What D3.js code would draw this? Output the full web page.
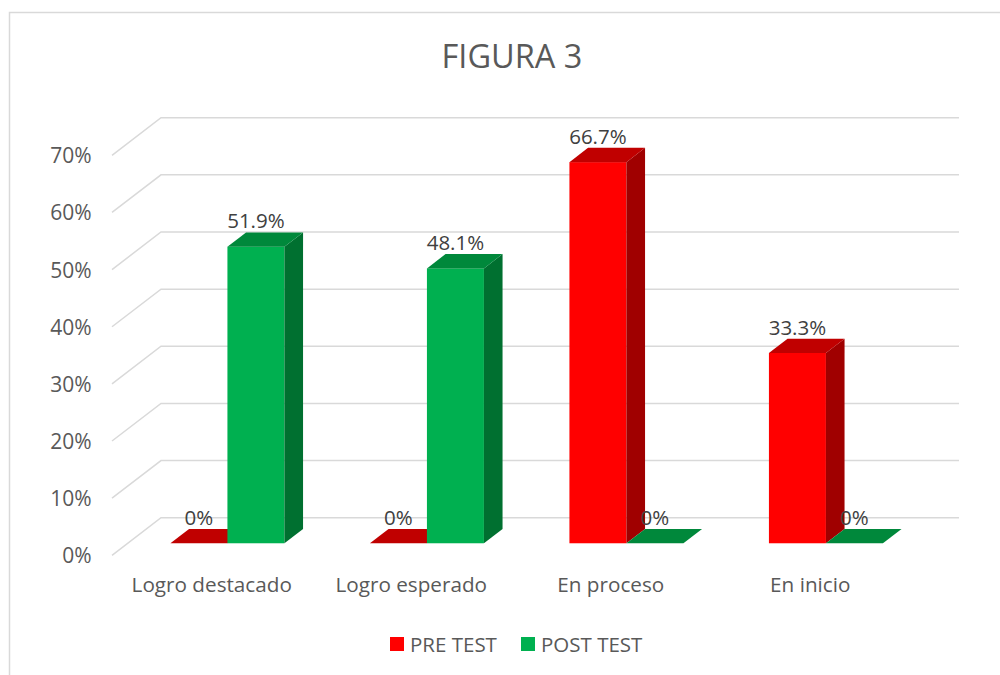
<!DOCTYPE html>
<html>
<head>
<meta charset="utf-8">
<script src="https://cdn.jsdelivr.net/npm/d3@7"></script>
<style>
  html, body { margin: 0; padding: 0; background: #fff; }
  svg { display: block; }
  text { font-family: "Open Sans", "Noto Sans", sans-serif; fill: #595959; }
</style>
</head>
<body>
<svg id="chart" width="1000" height="675"></svg>
<script>
const categories = ["Logro destacado", "Logro esperado", "En proceso", "En inicio"];
const seriesNames = ["PRE TEST", "POST TEST"];
const preTest = [0, 0, 66.7, 33.3];
const postTest = [51.9, 48.1, 0, 0];
const yTicks = [0, 10, 20, 30, 40, 50, 60, 70];
const title = "FIGURA 3";

const seriesValues = [preTest, postTest];
const colors = {
  "PRE TEST": { front: "#FF0000", top: "#C00000", side: "#A00000" },
  "POST TEST": { front: "#00B050", top: "#00883B", side: "#007030" }
};

const svg = d3.select("#chart");

// chart border
svg.append("rect")
  .attr("x", 9.5).attr("y", 12.5)
  .attr("width", 1000).attr("height", 700)
  .attr("fill", "none").attr("stroke", "#D9D9D9").attr("stroke-width", 1.5);

// 3D geometry
const depth = { dx: 49, dy: -37.6 };
const f1 = 0.32, f2 = 0.70;

const y = d3.scaleLinear().domain([0, 70]).range([555.3, 155.3]);
const x = d3.scaleBand().domain(categories).range([112, 910]).paddingInner(0).paddingOuter(0);
const x1 = d3.scaleBand().domain(seriesNames).range([0, x.bandwidth()]).paddingInner(0).paddingOuter(0.75);

// gridlines (left wall diagonal + back wall horizontal)
const grid = svg.append("g");
yTicks.forEach(t => {
  const yy = y(t);
  grid.append("path")
    .attr("d", `M112,${yy} L${112 + depth.dx},${yy + depth.dy} L${910 + depth.dx},${yy + depth.dy}`)
    .attr("fill", "none").attr("stroke", "#D9D9D9").attr("stroke-width", 1.5);
});

// y tick labels
svg.append("g").selectAll("text").data(yTicks).join("text")
  .attr("x", 91.5).attr("y", d => y(d))
  .attr("text-anchor", "end").attr("dominant-baseline", "central")
  .attr("font-size", 21)
  .text(d => d + "%");

// bars
const bars = svg.append("g");
const labels = [];
categories.forEach((cat, i) => {
  seriesNames.forEach((s, j) => {
    const v = seriesValues[j][i];
    const w = x1.bandwidth();
    const x0 = x(cat) + x1(s) + depth.dx * f1;
    const yb = y(0) + depth.dy * f1;
    const yt = y(v) + depth.dy * f1;
    const ddx = depth.dx * (f2 - f1), ddy = depth.dy * (f2 - f1);
    const c = colors[s];
    if (v > 0) {
      bars.append("rect")
        .attr("x", x0).attr("y", yt).attr("width", w).attr("height", yb - yt)
        .attr("fill", c.front);
      bars.append("polygon")
        .attr("points", [[x0 + w, yt], [x0 + w + ddx, yt + ddy], [x0 + w + ddx, yb + ddy], [x0 + w, yb]].map(p => p.join(",")).join(" "))
        .attr("fill", c.side);
    }
    bars.append("polygon")
      .attr("points", [[x0, yt], [x0 + w, yt], [x0 + w + ddx, yt + ddy], [x0 + ddx, yt + ddy]].map(p => p.join(",")).join(" "))
      .attr("fill", c.top);
    labels.push({ x: x0 + w / 2, y: yt + ddy - 4, text: v === 0 ? "0%" : v.toFixed(1) + "%" });
  });
});

// data labels
svg.append("g").selectAll("text").data(labels).join("text")
  .attr("x", d => d.x).attr("y", d => d.y)
  .attr("text-anchor", "middle")
  .attr("font-size", 20.5)
  .style("fill", "#404040")
  .text(d => d.text);

// category labels
svg.append("g").selectAll("text").data(categories).join("text")
  .attr("x", d => x(d) + x.bandwidth() / 2).attr("y", 592)
  .attr("text-anchor", "middle")
  .attr("font-size", 20.7)
  .text(d => d);

// title
svg.append("text")
  .attr("x", 512).attr("y", 67.5)
  .attr("text-anchor", "middle")
  .attr("font-size", 32.5)
  .text(title);

// legend
const legend = svg.append("g");
const legendPos = [{ sx: 390, tx: 410 }, { sx: 521, tx: 541 }];
seriesNames.forEach((s, j) => {
  legend.append("rect")
    .attr("x", legendPos[j].sx).attr("y", 637).attr("width", 14).attr("height", 14)
    .attr("fill", colors[s].front);
  legend.append("text")
    .attr("x", legendPos[j].tx).attr("y", 644)
    .attr("dominant-baseline", "central")
    .attr("font-size", 20.5)
    .text(s);
});
</script>
</body>
</html>
